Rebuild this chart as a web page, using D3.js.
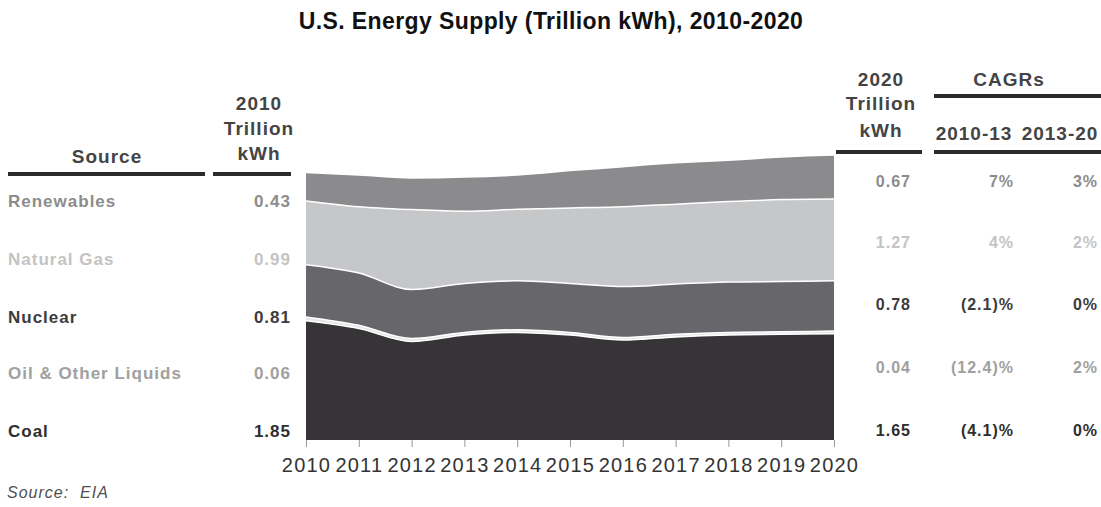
<!DOCTYPE html>
<html>
<head>
<meta charset="utf-8">
<script src="https://cdn.jsdelivr.net/npm/d3@7"></script>
<style>
  body { margin: 0; background: #fff; }
  text { font-family: "Liberation Sans", Arial, sans-serif; }
</style>
</head>
<body>
<svg id="chart"></svg>
<script>
// chart values (trillion kWh)
const years = [2010, 2011, 2012, 2013, 2014, 2015, 2016, 2017, 2018, 2019, 2020];
const coal = [1.85, 1.73, 1.53, 1.63, 1.67, 1.63, 1.55, 1.60, 1.63, 1.64, 1.65];
const oil = [0.06, 0.05, 0.045, 0.04, 0.04, 0.04, 0.04, 0.04, 0.04, 0.04, 0.04];
const nuclear = [0.81, 0.81, 0.76, 0.76, 0.76, 0.76, 0.79, 0.78, 0.78, 0.78, 0.78];
const gas = [0.99, 1.03, 1.24, 1.12, 1.11, 1.17, 1.24, 1.24, 1.25, 1.27, 1.27];
const renewables = [0.43, 0.48, 0.48, 0.52, 0.52, 0.57, 0.61, 0.63, 0.63, 0.65, 0.67];

// table columns, top row first
const sources = ["Renewables", "Natural Gas", "Nuclear", "Oil & Other Liquids", "Coal"];
const val2010 = ["0.43", "0.99", "0.81", "0.06", "1.85"];
const val2020 = ["0.67", "1.27", "0.78", "0.04", "1.65"];
const cagr1013 = ["7%", "4%", "(2.1)%", "(12.4)%", "(4.1)%"];
const cagr1320 = ["3%", "2%", "0%", "2%", "0%"];

function getConfig() {
  let width = 1101;
  let height = 507;
  let container = d3.select("#chart")
    .attr("width", width)
    .attr("height", height);
  container.append("rect").attr("width", width).attr("height", height).attr("fill", "#fff");
  return {width, height, container};
}

function getScales() {
  let xScale = d3.scalePoint()
    .domain(years)
    .range([306, 834]);
  let yScale = d3.scaleLinear()
    .domain([0, 4.5])
    .range([440, 150]);
  return {xScale, yScale};
}

function drawArea(scales, config) {
  let {xScale, yScale} = scales;
  let {container} = config;

  // stacked from the bottom up
  let keys = ["coal", "oil", "nuclear", "gas", "renewables"];
  let fills = {coal: "#363436", oil: "#e6e6e6", nuclear: "#67676b", gas: "#c6c7c9", renewables: "#8b8b8e"};
  let rows = years.map((y, i) => ({
    year: y, coal: coal[i], oil: oil[i], nuclear: nuclear[i], gas: gas[i], renewables: renewables[i]
  }));
  let series = d3.stack().keys(keys)(rows);

  let area = d3.area()
    .x(d => xScale(d.data.year))
    .y0(d => yScale(d[0]))
    .y1(d => yScale(d[1]))
    .curve(d3.curveMonotoneX);

  container.append("g")
    .selectAll("path")
    .data(series)
    .enter()
    .append("path")
      .attr("d", area)
      .attr("fill", d => fills[d.key]);

  // white seams between layers
  let seam = d3.line()
    .x(d => xScale(d.data.year))
    .y(d => yScale(d[1]))
    .curve(d3.curveMonotoneX);

  container.append("g")
    .selectAll("path")
    .data(series.slice(0, 4))
    .enter()
    .append("path")
      .attr("d", seam)
      .attr("fill", "none")
      .attr("stroke", "#fff")
      .attr("stroke-width", 1.5);

  let axis = container.append("g")
    .attr("transform", "translate(0,440)")
    .call(d3.axisBottom(xScale).tickSize(7).tickPadding(11));
  axis.select(".domain").remove();
  axis.selectAll("line").attr("stroke", "#999");
  axis.selectAll("text")
    .attr("fill", "#333")
    .style("font-size", "20px")
    .style("letter-spacing", "1.2px")
    .style("font-family", "'Liberation Sans', Arial, sans-serif");
}

function drawTable(config) {
  let {container} = config;
  let colors = ["#8c8c8c", "#c4c4c4", "#3c3c3c", "#a0a0a0", "#2e2e2e"];
  let leftY = [207, 265, 323, 379, 437];
  let rightY = [187, 248, 310, 373, 436];

  let hdr = (txt, x, y, anchor) => container.append("text")
    .attr("x", x).attr("y", y)
    .attr("text-anchor", anchor || "middle")
    .attr("fill", "#444")
    .style("font-size", "19px")
    .style("font-weight", "bold")
    .style("letter-spacing", "1px")
    .text(txt);

  let rule = (x1, x2, y) => container.append("rect")
    .attr("x", x1).attr("y", y - 2)
    .attr("width", x2 - x1).attr("height", 4)
    .attr("fill", "#2b2b2b");

  // left header
  hdr("Source", 107, 163);
  hdr("2010", 259, 110);
  hdr("Trillion", 259, 135);
  hdr("kWh", 259, 160);
  rule(8, 205, 174);
  rule(213, 291, 174);

  // right header
  hdr("2020", 881, 86);
  hdr("Trillion", 881, 110);
  hdr("kWh", 881, 137);
  hdr("CAGRs", 1009, 86);
  hdr("2010-13", 974, 140);
  hdr("2013-20", 1060, 140);
  rule(836, 922, 152);
  rule(934, 1101, 96);
  rule(934, 1101, 152);

  let cell = (arr, x, ys, anchor, size) => container.append("g")
    .selectAll("text")
    .data(arr)
    .enter()
    .append("text")
      .attr("x", x)
      .attr("y", (d, i) => ys[i])
      .attr("text-anchor", anchor)
      .attr("fill", (d, i) => colors[i])
      .style("font-size", size)
      .style("font-weight", "bold")
      .style("letter-spacing", "1px")
      .text(d => d);

  cell(sources, 8, leftY, "start", "17px");
  cell(val2010, 291, leftY, "end", "17px");
  cell(val2020, 911, rightY, "end", "16px");
  cell(cagr1013, 1014, rightY, "end", "16px");
  cell(cagr1320, 1098, rightY, "end", "16px");
}

function drawTitles(config) {
  let {container} = config;
  container.append("text")
    .attr("x", 551).attr("y", 29)
    .attr("text-anchor", "middle")
    .attr("fill", "#111")
    .style("font-size", "23px")
    .style("font-weight", "bold")
    .style("letter-spacing", "0.4px")
    .text("U.S. Energy Supply (Trillion kWh), 2010-2020");

  container.append("text")
    .attr("x", 7).attr("y", 498)
    .attr("fill", "#505050")
    .style("font-size", "16px")
    .style("font-style", "italic")
    .style("letter-spacing", "1px")
    .style("white-space", "pre")
    .text("Source:  EIA");
}

function showData() {
  let config = getConfig();
  let scales = getScales();
  drawArea(scales, config);
  drawTable(config);
  drawTitles(config);
}

showData();
</script>
</body>
</html>
